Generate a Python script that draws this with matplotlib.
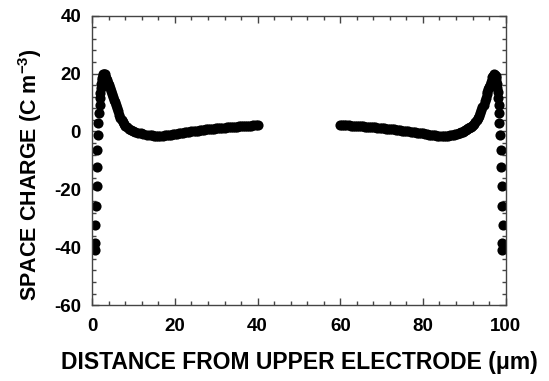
import matplotlib
matplotlib.use("Agg")
import matplotlib.pyplot as plt
from matplotlib.ticker import MultipleLocator

plt.rcParams['font.family'] = ['Liberation Sans', 'DejaVu Sans']
plt.rcParams['font.weight'] = 'bold'
plt.rcParams['axes.unicode_minus'] = False
plt.rcParams['mathtext.fontset'] = 'custom'
plt.rcParams['mathtext.rm'] = 'Liberation Sans:bold'
plt.rcParams['mathtext.bf'] = 'Liberation Sans:bold'
plt.rcParams['mathtext.it'] = 'Liberation Sans:bold'

# Left half (near upper electrode), x in micrometres, space charge in C m^-3
left_x = [0.7, 0.7, 0.75, 1.0, 1.05, 1.1, 1.2, 1.4, 1.5, 1.65, 1.8, 1.9, 2.0, 2.1,
          2.2, 2.3, 2.4, 2.5, 2.65, 2.8, 3.0, 3.2, 3.4, 3.6, 3.8, 4.0, 4.2, 4.45,
          4.7, 4.95, 5.2, 5.45, 5.7, 5.95, 6.2, 6.5, 6.8, 7.1, 7.4, 7.7, 8.0, 8.4,
          8.8, 9.3, 9.8, 10.4, 11.0, 11.7, 12.4, 13.2, 14, 14.5, 15, 15.5, 16, 16.5,
          17, 17.5, 18, 18.5, 19, 19.5, 20, 20.5, 21, 21.5, 22, 22.5, 23, 23.5, 24,
          24.5, 25, 25.5, 26, 26.5, 27, 27.5, 28, 28.5, 29, 29.5, 30, 30.5, 31,
          31.5, 32, 32.5, 33, 33.5, 34, 34.5, 35, 35.5, 36, 36.5, 37, 37.5, 38,
          38.5, 39, 39.5, 40]
left_y = [-40.9, -38.6, -32.4, -25.7, -18.9, -12.2, -6.4, -1.2, 2.9, 6.4, 9.2, 11.4,
          13.3, 15.0, 16.4, 17.6, 18.5, 19.2, 19.7, 20.0, 19.8, 19.3, 18.6, 17.8,
          16.9, 16.0, 15.1, 14.0, 13.0, 12.0, 11.0, 10.0, 9.0, 8.0, 6.9, 5.6, 4.5,
          3.8, 3.1, 2.5, 2.0, 1.4, 0.95, 0.55, 0.2, -0.1, -0.4, -0.7, -0.9, -1.1,
          -1.3, -1.4, -1.45, -1.5, -1.5, -1.5, -1.45, -1.4, -1.3, -1.2, -1.1, -1.0,
          -0.9, -0.8, -0.65, -0.5, -0.4, -0.3, -0.2, -0.1, 0.0, 0.1, 0.2, 0.3, 0.4,
          0.5, 0.6, 0.7, 0.75, 0.85, 0.9, 1.0, 1.05, 1.15, 1.2, 1.3, 1.35, 1.45,
          1.5, 1.55, 1.6, 1.65, 1.7, 1.75, 1.8, 1.85, 1.9, 1.95, 2.0, 2.05, 2.1,
          2.15, 2.2]

# Right half (near lower electrode)
right_x = [60, 60.5, 61, 61.5, 62, 62.5, 63, 63.5, 64, 64.5, 65, 65.5, 66, 66.5, 67,
           67.5, 68, 68.5, 69, 69.5, 70, 70.5, 71, 71.5, 72, 72.5, 73, 73.5, 74,
           74.5, 75, 75.5, 76, 76.5, 77, 77.5, 78, 78.5, 79, 79.5, 80, 80.5, 81,
           81.5, 82, 82.5, 83, 83.5, 84, 84.5, 85, 85.5, 86, 86.5, 87, 87.4, 87.8,
           88.2, 88.6, 89.0, 89.3, 89.6, 89.9, 90.2, 90.5, 90.75, 91.0, 91.2, 91.4,
           91.6, 91.8, 92.1, 92.4, 92.7, 93.0, 93.3, 93.6, 93.9, 94.15, 94.4, 94.65,
           94.9, 95.15, 95.4, 95.6, 95.8, 96.0, 96.2, 96.4, 96.6, 96.8, 97.0, 97.2,
           97.4, 97.55, 97.65, 97.75, 97.85, 97.95, 98.05, 98.15, 98.3, 98.4, 98.5,
           98.6, 98.8, 98.9, 99.2, 99.2, 99.3, 99.2, 99.2]
right_y = [2.2, 2.2, 2.15, 2.1, 2.1, 2.05, 2.0, 1.95, 1.9, 1.85, 1.8, 1.75, 1.7,
           1.65, 1.6, 1.5, 1.45, 1.4, 1.3, 1.25, 1.15, 1.1, 1.0, 0.95, 0.85, 0.8,
           0.7, 0.6, 0.5, 0.4, 0.3, 0.2, 0.1, 0.0, -0.1, -0.2, -0.3, -0.4, -0.5,
           -0.6, -0.7, -0.8, -0.95, -1.1, -1.2, -1.3, -1.4, -1.5, -1.55, -1.6, -1.6,
           -1.6, -1.5, -1.4, -1.3, -1.15, -1.0, -0.8, -0.6, -0.45, -0.3, -0.1, 0.1,
           0.35, 0.6, 0.85, 1.1, 1.3, 1.5, 1.7, 1.9, 2.3, 2.7, 3.3, 4.0, 4.7, 5.4,
           6.3, 7.3, 8.3, 9.3, 10.4, 11.6, 12.8, 13.7, 14.6, 15.4, 16.2, 17.0, 17.9,
           18.7, 19.3, 19.7, 19.5, 19.0, 18.3, 17.4, 16.3, 15.0, 13.5, 11.7, 9.2,
           6.4, 2.9, -1.2, -6.4, -12.2, -18.9, -25.7, -32.4, -38.6, -40.9]

x_ticks = [0, 20, 40, 60, 80, 100]
y_ticks = [-60, -40, -20, 0, 20, 40]

fig = plt.figure(figsize=(5.49, 3.81), dpi=100)
ax = fig.add_axes([0.168, 0.199, 0.753, 0.760])

ax.plot(left_x, left_y, 'o', color='black', markersize=7.3, markeredgewidth=0)
ax.plot(right_x, right_y, 'o', color='black', markersize=7.3, markeredgewidth=0)

ax.set_xlim(0, 100)
ax.set_ylim(-60, 40)
ax.set_xticks(x_ticks)
ax.set_yticks(y_ticks)
ax.xaxis.set_minor_locator(MultipleLocator(4))
ax.yaxis.set_minor_locator(MultipleLocator(4))
ax.tick_params(which='both', direction='in', top=True, right=True,
               color='#444444', width=1.0)
ax.tick_params(which='major', length=5, labelsize=13.5)
ax.tick_params(which='minor', length=3)
ax.tick_params(axis='x', which='major', pad=9)
ax.tick_params(axis='y', which='major', pad=8)
for lab in ax.get_xticklabels() + ax.get_yticklabels():
    lab.set_fontweight('bold')
for s in ax.spines.values():
    s.set_color('#444444')
    s.set_linewidth(1.0)

ax.set_xlabel('DISTANCE FROM UPPER ELECTRODE (\u03bcm)', fontsize=16.5,
              fontweight='bold', labelpad=12)
ax.set_ylabel(r'SPACE CHARGE (C m$^{-3}$)', fontsize=15.5, fontweight='bold')
ax.yaxis.set_label_coords(-0.117, 0.45)

fig.savefig('out.png', dpi=100)
